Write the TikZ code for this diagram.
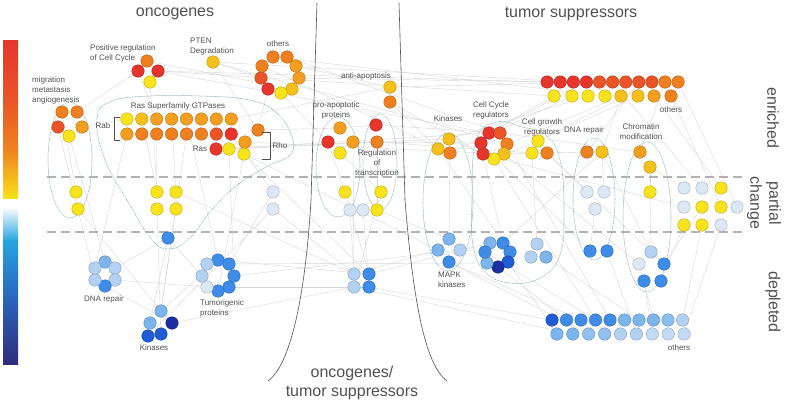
\documentclass[tikz,border=0pt]{standalone}
\usepackage{fontspec}
\setmainfont{Liberation Sans}
\usetikzlibrary{backgrounds}
\definecolor{ink}{HTML}{505050}
\definecolor{edge}{HTML}{D6D6D6}
\definecolor{rim}{HTML}{8DB2B6}
\definecolor{cR}{HTML}{E6352D}
\definecolor{cRO}{HTML}{EA5427}
\definecolor{cO}{HTML}{EF8020}
\definecolor{cOL}{HTML}{F39E1E}
\definecolor{cYO}{HTML}{F6C01B}
\definecolor{cY}{HTML}{F9E31A}
\definecolor{bW}{HTML}{DCE8F6}
\definecolor{bL}{HTML}{B3D1F2}
\definecolor{bM}{HTML}{7CB4EE}
\definecolor{bB}{HTML}{3E8CE8}
\definecolor{bD}{HTML}{1F5CD6}
\definecolor{bN}{HTML}{1B2FA2}

\begin{document}
\begin{tikzpicture}[x=1pt,y=-1pt,font=\fontsize{8}{10}\selectfont,text=ink,
  line cap=round,line join=round,
  gene/.style={circle,minimum size=12.5pt,inner sep=0pt,line width=.4pt,fill=#1,draw=#1!75!black},
  link/.style={edge,line width=.4pt},
  hull/.style={rim,densely dotted,line width=.6pt},
  sep/.style={black!30,line width=1.2pt,dash pattern=on 9pt off 5pt,line cap=butt},
  big/.style={font=\fontsize{16}{19}\selectfont,align=center}]
  \useasboundingbox (0,0) rectangle (787,405);

  % Colour scale.
  \shade[top color=cR,bottom color=cRO] (3,40) rectangle (18,100.5);
  \shade[top color=cRO,bottom color=cO!90!cOL] (3,100) rectangle (18,150.5);
  \shade[top color=cO!90!cOL,bottom color=cY] (3,150) rectangle (18,199.5);
  \fill[white] (3,199) rectangle (18,207.5);
  \shade[top color=white,bottom color={rgb,255:red,40;green,164;blue,224}] (3,207) rectangle (18,240.5);
  \shade[top color={rgb,255:red,40;green,164;blue,224},bottom color={rgb,255:red,42;green,108;blue,198}] (3,240) rectangle (18,290.5);
  \shade[top color={rgb,255:red,42;green,108;blue,198},bottom color={rgb,255:red,46;green,44;blue,124}] (3,290) rectangle (18,364);

  % Bands and the shared middle.
  \draw[sep] (47,177) -- (745,177);
  \draw[sep] (47,232) -- (745,232);
  \draw[ink,line width=.6pt] (317,3) -- (311,200) .. controls (305,300) and (290,365) .. (268,381);
  \draw[ink,line width=.6pt] (399,3) -- (405,200) .. controls (413,300) and (425,365) .. (447,381);

  % Group outlines.
  \draw[hull] (70,160) ellipse [x radius=22pt,y radius=58pt];
  \draw[hull] plot[smooth cycle,tension=.7] coordinates {(97,118) (112,101) (150,96) (200,96)
    (250,100) (278,114) (293,140) (289,156) (268,166) (236,186) (210,212) (190,238) (170,249)
    (152,240) (130,205) (105,160)};
  \draw[hull] (338,167) ellipse [x radius=22pt,y radius=50pt];
  \draw[hull] (380,162) ellipse [x radius=17pt,y radius=48pt];
  \draw[hull] (448,202) ellipse [x radius=25pt,y radius=69pt];
  \draw[hull] plot[smooth cycle,tension=.7] coordinates {(472,200) (476,140) (497,122) (522,127)
    (546,135) (560,160) (564,210) (560,255) (540,278) (510,283) (485,272) (473,245)};
  \draw[hull] (594,199) ellipse [x radius=21pt,y radius=61pt];
  \draw[hull] (647,217) ellipse [x radius=24pt,y radius=75pt];

  % Oncogenes.
  \foreach \n/\x/\y/\c in {pc1/147/61/cO,pc2/138/71/cR,pc3/158/71/cR,pc4/150/82/cY,pt1/213/62/cYO,
      mg1/62/112/cO,mg2/77/112/cO,mg3/58/127/cRO,mg4/82/127/cOL,mg5/69/136/cY,mgp1/76/192/cY,mgp2/78/209/cY,
      ras1/216/149/cR,ras2/229/149/cY,rho3/244/154/cY,rho2/245/142/cOL,rho1/258/130/cO,
      rsp1/157/192/cY,rsp2/176/192/cY,rsp3/157/209/cY,rsp4/176/209/cY,rsd/168/238/bB,
      mid1/273/192/bW,mid2/273/209/bW,
      oo1/273/57/cO,oo2/287/57/cO,oo3/296/66/cOL,oo4/299/78/cOL,oo5/292/89/cYO,oo6/281/93/cY,
      oo7/268/89/cR,oo8/261/78/cRO,oo9/262/66/cO,
      ocd1/105/262/bM,ocd2/115/268/bL,ocd3/115/280/bL,ocd4/105/286/bB,ocd5/95/280/bL,ocd6/95/268/bL,
      tg1/218/260/bB,tg2/229/264/bB,tg3/234/276/bB,tg4/229/287/bB,tg5/218/291/bB,tg6/207/287/bW,
      tg7/202/276/bL,tg8/207/264/bL,
      ok1/161/311/bM,ok2/150/323/bM,ok3/172/323/bN,ok4/161/334/bD,ok5/148/336/bD}
    \node[gene=\c] (\n) at (\x,\y) {};
  \foreach \c [count=\i] in {cY,cYO,cOL,cOL,cOL,cOL,cOL,cOL}
    \node[gene=\c] (rab\i) at ({112+14.9*\i},119) {};
  \foreach \c [count=\i] in {cOL,cO,cO,cO,cO,cO,cRO,cR}
    \node[gene=\c] (rbb\i) at ({112+14.9*\i},134) {};

  % Shared.
  \foreach \n/\x/\y/\c in {aa1/390/87/cYO,aa2/390/102/cO,
      pa1/340/128/cOL,pa2/328/142/cR,pa3/353/142/cOL,pa4/340/153/cY,pap1/345/192/cY,
      rt1/376/125/cR,rt2/377/142/cO,rtp1/381/192/cY,
      ctp1/350/210/bW,ctp2/363/210/bW,ctp3/377/210/cY,
      cq1/354/274/bL,cq2/369/274/bB,cq3/354/287/bL,cq4/369/287/bB}
    \node[gene=\c] (\n) at (\x,\y) {};

  % Tumor suppressors.
  \foreach \n/\x/\y/\c in {tk1/449/139/cYO,tk2/438/149/cYO,tk3/450/153/cO,
      mk1/449/239/bM,mk2/438/250/bM,mk3/460/250/bL,mk4/449/262/bB,
      cc1/489/133/cR,cc2/500/133/cRO,cc3/507/144/cO,cc4/504/154/cYO,cc5/494/159/cY,cc6/483/154/cR,cc7/481/143/cR,
      cb1/490/243/bM,cb2/503/243/bB,cb3/510/252/bB,cb4/508/262/bD,cb5/498/267/bN,cb6/487/263/bM,cb7/485/252/bB,
      cg1/538/141/cY,cg2/532/153/cY,cg3/547/153/cO,cgd1/537/244/bL,cgd2/531/257/bL,cgd3/546/257/bM,
      dr1/587/152/cO,dr2/602/152/cYO,drp1/587/192/bW,drp2/604/192/bW,drp3/595/209/bW,drd1/590/251/bB,drd2/607/251/bB,
      ch1/640/152/cOL,ch2/650/167/cYO,chp1/650/192/cY,chd1/651/252/bL,chd2/639/264/bW,chd3/664/264/bB,
      chd4/644/281/bB,chd5/661/281/bB,
      rp1/684/188/bW,rp2/702/188/bW,rp3/721/188/cY,rp4/684/207/bW,rp5/702/207/cY,rp6/721/207/cY,
      rp7/737/207/bW,rp8/684/225/cY,rp9/702/225/cY,rp10/721/225/bW}
    \node[gene=\c] (\n) at (\x,\y) {};
  \foreach \c [count=\i] in {cR,cR,cR,cR,cRO,cRO,cRO,cRO,cRO,cO,cO}
    \node[gene=\c] (tr\i) at ({534+13.1*\i},82) {};
  \foreach \c/\x [count=\i] in {cY/554,cY/572,cY/588,cY/605,cYO/621,cYO/638,cOL/654,cO/671}
    \node[gene=\c] (ts\i) at (\x,96) {};
  \foreach \c [count=\i] in {bD,bB,bB,bB,bB,bM,bM,bM,bM!70!bL,bL}
    \node[gene=\c] (da\i) at ({537.5+14.5*\i},320) {};
  \foreach \c [count=\i] in {bM,bM,bM!60!bL,bM!60!bL,bL,bL,bL!60!bW,bL!60!bW,bL!60!bW}
    \node[gene=\c] (db\i) at ({541+15.9*\i},334) {};

  % Interactions.
  \begin{scope}[on background layer]
    \foreach \a/\b in {pc2/rab3,pc3/tr1,pc1/oo5,pc4/rsp1,pc3/cc1,pc2/mg2,pt1/oo8,pt1/tr3,pt1/cc3,
        mg1/mgp1,mg4/rab1,mg5/ocd1,mgp2/ok1,rab2/rsp1,rab4/rsp2,rab5/tg1,rab7/ras1,rbb3/rsp3,
        rbb5/ok1,rbb8/mid1,ras1/cc1,ras1/tk1,ras2/tg3,rho1/oo7,rho1/pa1,rho2/cc4,rho3/cq2,rho3/mk2,
        rho3/tg5,rsp4/ok1,rsd/ok2,rsd/tg7,rsp3/ok4,oo4/tr2,oo3/aa1,oo6/pa2,oo1/ts4,oo2/cc2,aa1/tr5,
        aa2/cc6,aa2/tk2,pa1/rt1,pa2/pap1,pa3/cq1,pa4/rtp1,pa3/cc7,rt1/cc2,rt2/cg2,rt2/ctp3,rtp1/cq3,
        pap1/cq2,ctp1/cq1,ctp2/cq4,ctp3/mk1,mid1/tg2,mid2/ok5,mid2/cq1,ocd3/tg6,ocd2/rsd,ocd4/ok3,
        tg1/cq2,tg4/cq4,tg3/mk3,tg8/cb6,ok3/cq3,ok1/tg1,cq2/cb1,cq4/da1,cq1/mk2,cq3/db2,tk1/cc5,
        tk3/mk1,tk3/ts2,tk2/cb3,mk4/da3,mk3/cb7,cc1/tr4,cc3/ts5,cc5/cg1,cc4/dr1,cc6/cb2,cc7/drd1,
        cc2/ch1,cc3/da5,cc4/chd2,cc5/db4,cc6/rp4,cg1/ts6,cg2/cgd1,cg3/drp1,cg3/chd3,cgd3/da7,cb4/db1,
        cb5/da2,cb2/dr2,dr1/tr8,dr2/drp2,drp3/drd1,drd2/db6,dr2/chd1,ch1/tr10,ch2/chp1,chp1/chd1,
        chd2/da8,chd4/db7,chd5/rp8,ch2/rp1,tr6/rp2,ts7/rp3,ts8/rp6,rp9/da10,rp10/db9,rp5/chd3,
        tr9/cg1,tr11/rp7,da4/cb7,db3/mk4,ts1/cc1,ts3/tk1,tr7/dr2,pc3/ts1,rab8/aa1,mg3/ocd5,
        rbb1/ocd6,oo9/tk3,pt1/rho1,rsp2/cq1,ras2/rt2}
      \draw[link] (\a) -- (\b);
  \end{scope}

  % Brackets.
  \draw[ink,line width=.6pt] (120,117) -- (114,117) -- (114,140) -- (120,140);
  \draw[ink,line width=.6pt] (262,132) -- (270,132) -- (270,159) -- (262,159);

  % Group labels.
  \node[anchor=west,align=left,inner sep=0pt] (lpc) at (90,53) {Positive regulation\\of Cell Cycle};
  \node[anchor=west,align=left,inner sep=0pt] (lpt) at (190,47) {PTEN\\Degradation};
  \node (loo) at (278,44) {others};
  \node[anchor=west,align=left,inner sep=0pt] (lmg) at (32,90) {migration\\metastasis\\angiogenesis};
  \node (lras) at (178,106) {Ras Superfamily GTPases};
  \node (lrab) at (103,126) {Rab};
  \node (lrs) at (200,149) {Ras};
  \node (lrho) at (280,146) {Rho};
  \node (laa) at (366,76) {anti-apoptosis};
  \node[align=center] (lpa) at (336,110) {pro-apoptotic\\proteins};
  \node[align=center] (lrt) at (377,163) {Regulation\\of\\transcription};
  \node (ltk) at (448,119) {Kinases};
  \node[align=center] (lcc) at (491,110) {Cell Cycle\\regulators};
  \node[align=center] (lcg) at (542,127) {Cell growth\\regulators};
  \node (ldr) at (584,130) {DNA repair};
  \node[align=center] (lch) at (641,132) {Chromatin\\modification};
  \node (lts) at (671,110) {others};
  \node (locd) at (104,299) {DNA repair};
  \node[anchor=west,align=left,inner sep=0pt] (ltg) at (200,308) {Tumorigenic\\proteins};
  \node (lok) at (154,348) {Kinases};
  \node[anchor=west,align=left,inner sep=0pt] (lmk) at (438,280) {MAPK\\kinases};
  \node (lda) at (679,348) {others};

  % Titles.
  \node[big] (tonc) at (175,14) {oncogenes};
  \node[big] (tsup) at (571,14) {tumor suppressors};
  \node[big] (tmid) at (352,383) {oncogenes/\\tumor suppressors};
  \node[big,rotate=-90] (ten) at (773,118) {enriched};
  \node[big,rotate=-90] (tpc) at (764,203) {partial\\change};
  \node[big,rotate=-90] (tdp) at (773,302) {depleted};
\end{tikzpicture}
\end{document}
